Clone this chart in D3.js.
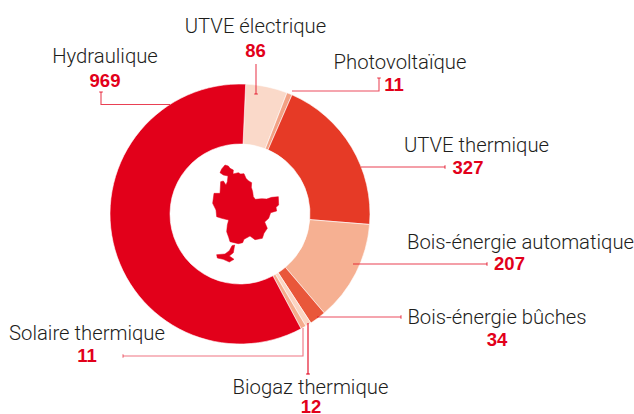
<!DOCTYPE html>
<html><head><meta charset="utf-8">
<script src="https://cdn.jsdelivr.net/npm/d3@7"></script>
<style>html,body{margin:0;padding:0;background:#fff}svg{display:block}</style>
</head><body><svg id="c" width="634" height="414"></svg>
<script>
const categories = ["UTVE électrique","Photovoltaïque","UTVE thermique","Bois-énergie automatique","Bois-énergie bûches","Biogaz thermique","Solaire thermique","Hydraulique"];
const values = [86,11,327,207,34,12,11,969];
const colors = ["#fad9c9","#f2a184","#e63a26","#f6b092","#e9573a","#fbd5c3","#f5ab8c","#e2001a"];
// label layout: [name x, name baseline, value x, value baseline]
const labelPos = [[255.5,33,255.5,57],[400,69,394,91],[476.5,152,468,174],[520.5,249,509.5,270],[497,324,497,346],[310.5,394,311,412.5],[87,340,87,362],[105,63,105,87]];
const leaderPts = [
 [[256,64],[256,94]],
 [[292,91],[379,91],[379,78]],
 [[361,167],[445,167]],
 [[353,264],[487,264]],
 [[317,317],[401,317]],
 [[308,323],[308,374]],
 [[303,328],[303,356],[123,356]],
 [[170,104.5],[101,104.5],[101,92]]
];
const leaderOpacity = [.75,.7,.75,.75,.7,1,.55,.75];
const mapOutline = [[150,68],[155,57],[165,45],[175,48],[180,55],[190,60],[189,72],[205,68],[212,72],[222,71],[228,85],[235,92],[245,98],[244,112],[248,125],[250,140],[256,148],[275,146],[290,147],[305,142],[325,140],[326,165],[318,172],[320,183],[302,188],[296,205],[284,216],[292,235],[282,250],[277,265],[255,269],[240,258],[222,268],[218,278],[205,281],[180,275],[176,262],[170,245],[172,225],[176,210],[155,205],[140,200],[138,180],[128,160],[132,130],[150,130],[152,95],[160,93],[168,105],[172,95],[174,78],[160,75]];
const mapSouth = [[186,287],[194,285],[190,308],[178,318],[192,328],[178,336],[160,328],[142,324],[140,314],[165,312],[178,302]];

const svg = d3.select("#c");
const cx = 240, cy = 214, rO = 130, rI = 70;
const pie = d3.pie().sort(null).value((d,i)=>values[i]).startAngle(2.5*Math.PI/180).endAngle(362.5*Math.PI/180);
const arc = d3.arc().innerRadius(rI).outerRadius(rO);
svg.append("g").attr("transform",`translate(${cx},${cy})`)
 .selectAll("path").data(pie(categories)).join("path")
 .attr("d",arc).attr("fill",(d,i)=>colors[i]).attr("stroke","#fff").attr("stroke-width",.6);

const mapLine = d3.line().x(d=>170+d[0]/3).y(d=>150+d[1]/3);
[mapOutline,mapSouth].forEach(p=>svg.append("path").attr("d",mapLine(p)+"Z").attr("fill","#e2001a").attr("stroke","#e2001a").attr("stroke-width",.5));

const line = d3.line();
leaderPts.forEach((p,i)=>{
  svg.append("path").attr("d",line(p)).attr("fill","none").attr("stroke","#e2001a").attr("stroke-opacity",leaderOpacity[i]).attr("stroke-width",1.1);
  const e=p[p.length-1], q=p[p.length-2], vertical = e[0]===q[0];
  svg.append("path").attr("d",vertical?`M${e[0]-1.8},${e[1]}H${e[0]+1.8}`:`M${e[0]},${e[1]-1.8}V${e[1]+1.8}`)
    .attr("stroke","#e2001a").attr("stroke-opacity",leaderOpacity[i]).attr("stroke-width",1.1);
});

categories.forEach((c,i)=>{
  const l=labelPos[i];
  svg.append("text").attr("x",l[0]).attr("y",l[1]).attr("text-anchor","middle")
   .attr("font-family","Roboto, 'Liberation Sans', sans-serif").attr("font-weight",300).attr("font-size",20.3).attr("fill","#1d1d1b").text(c);
  svg.append("text").attr("x",l[2]).attr("y",l[3]).attr("text-anchor","middle")
   .attr("font-family","'Liberation Sans', sans-serif").attr("font-weight",700).attr("font-size",18.5).attr("fill","#e2001a").text(values[i]);
});
</script></body></html>
